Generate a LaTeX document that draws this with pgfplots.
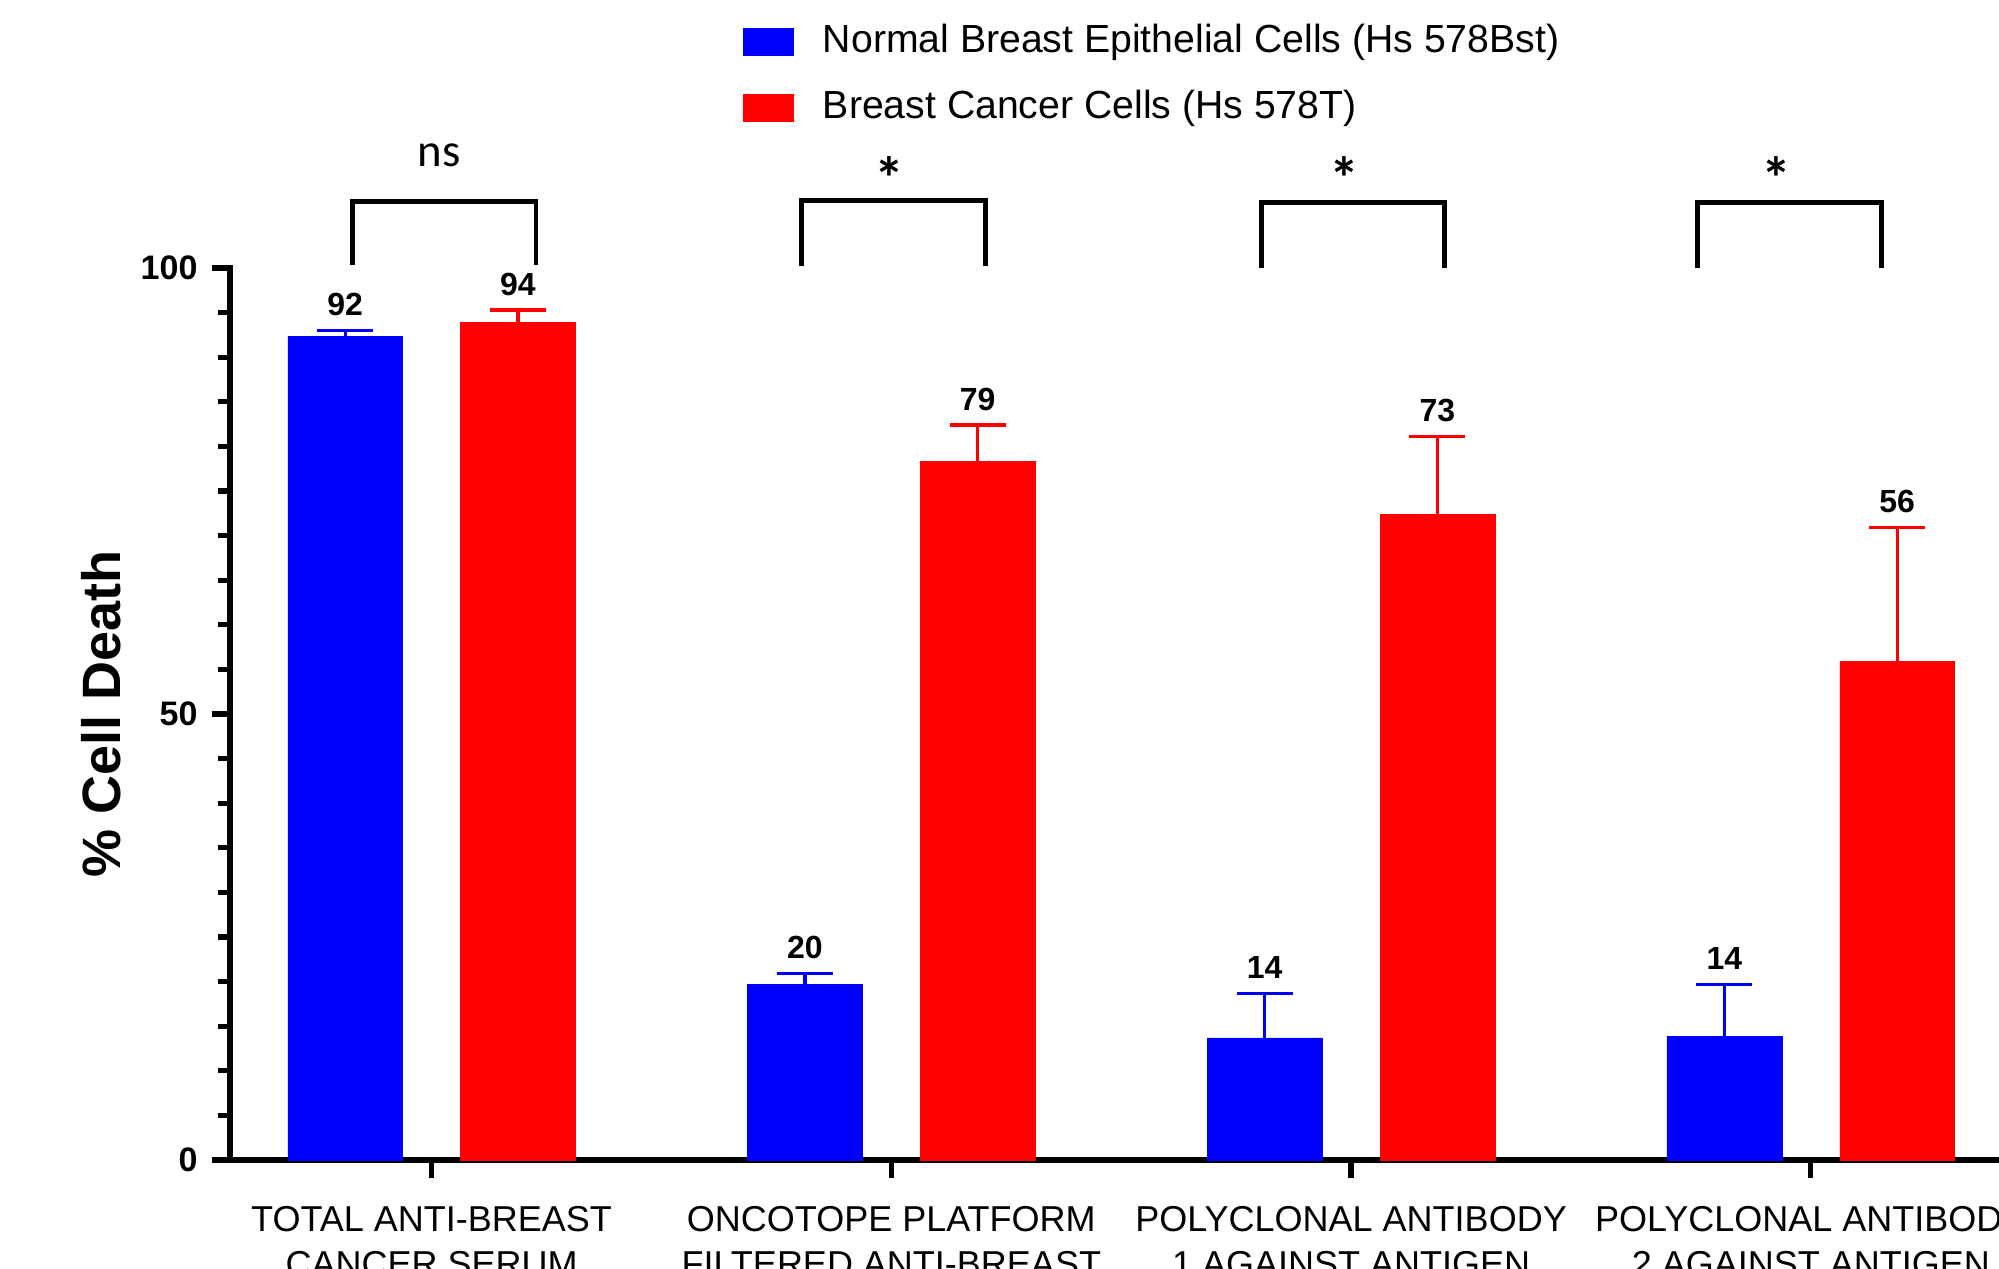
\documentclass[border=0pt]{standalone}
\usepackage{pgfplots}
\pgfplotsset{compat=1.18}
\usepackage{fontspec}
\setmainfont{Liberation Sans}
\newfontfamily\calibri{Carlito}

\begin{document}
\begin{tikzpicture}
\path[use as bounding box] (0,0) rectangle (499.75pt,317pt);
\clip (0,0) rectangle (499.75pt,317pt);
\begin{axis}[
  at={(57.4pt,27pt)}, anchor=south west,
  scale only axis, width=464.25pt, height=223pt,
  xmin=0.5606, xmax=4.6, ymin=0, ymax=100,
  axis lines=left,
  axis line style={-, line width=1.5pt, line cap=rect},
  clip=false,
  ybar, bar width=28.7pt,
  xtick={1,2,3,4},
  xticklabels={{TOTAL ANTI-BREAST\\CANCER SERUM},{ONCOTOPE PLATFORM\\FILTERED ANTI-BREAST},{POLYCLONAL ANTIBODY\\1 AGAINST ANTIGEN},{POLYCLONAL ANTIBODY\\2 AGAINST ANTIGEN}},
  xticklabel style={font=\fontsize{9}{11.2}\selectfont, align=center, yshift=-3.5pt},
  ytick={0,50,100},
  yticklabels={0,50,100},
  yticklabel style={font=\fontsize{8.5}{10}\selectfont\bfseries},
  minor y tick num=9,
  tick align=outside,
  major tick length=4.5pt,
  minor tick length=3pt,
  every tick/.style={black, line width=1.3pt},
  every axis y label/.style={at={(axis description cs:0,0.5)}, xshift=-32pt, rotate=90, anchor=center},
  ylabel={\fontsize{13.5}{16}\selectfont\bfseries \% Cell Death},
  legend style={at={(axis description cs:0.276,1.2765)}, anchor=north west, draw=none, fill=none,
    inner sep=0pt, font=\fontsize{9.8}{12}\selectfont, row sep=6.5pt,
    nodes={inner sep=0pt, text height=7.5pt, text depth=2.5pt}},
  legend cell align=left,
]
\addplot[forget plot, fill=blue, draw=blue, line width=0.1pt, bar shift=-21.6pt,
  error bars/.cd, y dir=plus, y explicit,
  error bar style={blue, line width=0.85pt},
  error mark options={rotate=90, mark size=7pt, line width=0.85pt, blue}]
  coordinates {(1,92.3) +- (0,0.7) (2,19.7) +- (0,1.2) (3,13.7) +- (0,5.0) (4,13.9) +- (0,5.8)};
\addplot[forget plot, fill=red, draw=red, line width=0.1pt, bar shift=21.6pt,
  error bars/.cd, y dir=plus, y explicit,
  error bar style={red, line width=0.85pt},
  error mark options={rotate=90, mark size=7pt, line width=0.85pt, red}]
  coordinates {(1,93.9) +- (0,1.4) (2,78.3) +- (0,4.1) (3,72.4) +- (0,8.7) (4,55.9) +- (0,15.0)};
\addplot[forget plot, draw=none, fill=none, bar shift=-21.6pt, point meta=explicit symbolic,
  nodes near coords={\pgfplotspointmeta},
  every node near coord/.append style={font=\fontsize{8}{9}\selectfont\bfseries, inner sep=0pt, yshift=3.4pt, black}]
  coordinates {(1,93.0) [92] (2,20.9) [20] (3,18.7) [14] (4,19.7) [14]};
\addplot[forget plot, draw=none, fill=none, bar shift=21.6pt, point meta=explicit symbolic,
  nodes near coords={\pgfplotspointmeta},
  every node near coord/.append style={font=\fontsize{8}{9}\selectfont\bfseries, inner sep=0pt, yshift=3.4pt, black}]
  coordinates {(1,95.3) [94] (2,82.4) [79] (3,81.1) [73] (4,70.9) [56]};
\addlegendimage{legend image code/.code={\fill[blue, draw=none] (0pt,-3.5pt) rectangle (12.75pt,3.5pt); \path[draw=none, fill=none] (0pt,0pt) rectangle (20pt,0.1pt);}}
\addlegendentry{Normal Breast Epithelial Cells (Hs 578Bst)}
\addlegendimage{legend image code/.code={\fill[red, draw=none] (0pt,-3.5pt) rectangle (12.75pt,3.5pt); \path[draw=none, fill=none] (0pt,0pt) rectangle (20pt,0.1pt);}}
\addlegendentry{Breast Cancer Cells (Hs 578T)}
% significance brackets
\draw[line width=1.2pt] (axis cs:0.828,100.3) -- (axis cs:0.828,107.45) -- (axis cs:1.227,107.45) -- (axis cs:1.227,100.3);
\draw[line width=1.2pt] (axis cs:1.804,100.2) -- (axis cs:1.804,107.6) -- (axis cs:2.204,107.6) -- (axis cs:2.204,100.2);
\draw[line width=1.2pt] (axis cs:2.805,100.0) -- (axis cs:2.805,107.3) -- (axis cs:3.204,107.3) -- (axis cs:3.204,100.0);
\draw[line width=1.2pt] (axis cs:3.754,100.0) -- (axis cs:3.754,107.3) -- (axis cs:4.153,107.3) -- (axis cs:4.153,100.0);
\node[font=\calibri\fontsize{11.7}{14}\selectfont, anchor=base] at (axis cs:1.016,111.35) {ns};
\node[font=\calibri\bfseries\fontsize{15}{16}\selectfont, anchor=base] at (axis cs:1.996,107.7) {*};
\node[font=\calibri\bfseries\fontsize{15}{16}\selectfont, anchor=base] at (axis cs:2.986,107.7) {*};
\node[font=\calibri\bfseries\fontsize{15}{16}\selectfont, anchor=base] at (axis cs:3.925,107.7) {*};
\end{axis}
\end{tikzpicture}
\end{document}
